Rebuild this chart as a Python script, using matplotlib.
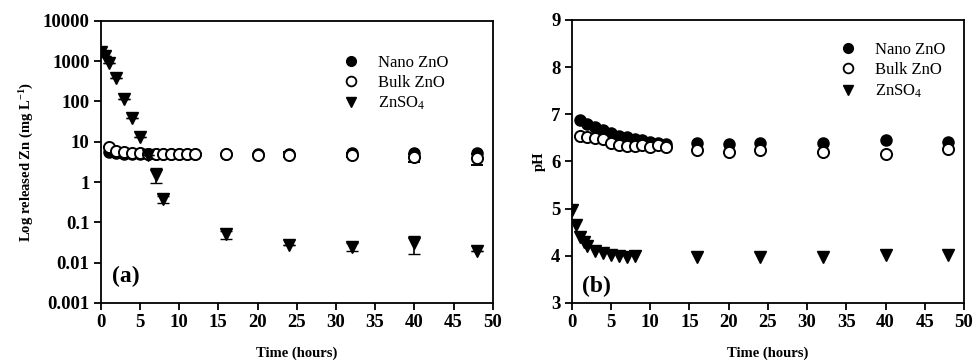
import matplotlib
matplotlib.use('Agg')
import matplotlib.pyplot as plt
from matplotlib.lines import Line2D
from matplotlib.ticker import FixedLocator, FixedFormatter

plt.rcParams['font.family'] = ['Liberation Serif', 'DejaVu Serif']
plt.rcParams['mathtext.fontset'] = 'custom'
plt.rcParams['mathtext.rm'] = 'Liberation Serif'
plt.rcParams['mathtext.bf'] = 'Liberation Serif:bold'
plt.rcParams['mathtext.it'] = 'Liberation Serif:italic'

# ---------------- data: panel (a) released Zn ----------------
t_zno = [1, 2, 3, 4, 5, 6, 7, 8, 9, 10, 11, 12, 16, 20, 24, 32, 40, 48]
nano_zn = [5.6, 5.2, 5.0, 5.0, 5.0, 5.0, 5.0, 5.0, 5.0, 5.0, 5.0, 5.0,
           5.0, 4.9, 5.0, 5.3, 5.1, 5.2]
bulk_zn = [7.4, 6.0, 5.5, 5.2, 5.1, 5.0, 5.0, 5.0, 5.0, 5.0, 5.0, 5.0,
           4.9, 4.8, 4.8, 4.7, 4.2, 4.0]
bulk_zn_err_lo = [0, 0, 0, 0, 0, 0, 0, 0, 0, 0, 0, 0, 0, 0, 0.6, 0.5, 1.0, 1.4]
bulk_zn_err_hi = [0, 0, 0, 0, 0, 0, 0, 0, 0, 0, 0, 0, 0, 0, 0.6, 0.5, 0.8, 0.9]

t_ion_a = [0, 0.5, 1, 2, 3, 4, 5, 6, 7, 8, 16, 24, 32, 40, 48]
znso4_zn = [1700, 1300, 870, 370, 117, 38, 13, 4.7, 1.5, 0.38, 0.05, 0.028,
            0.025, 0.03, 0.02]
znso4_err_lo = [0, 0, 0, 0, 0, 0, 0, 0, 0.58, 0.08, 0.012, 0, 0.005, 0.014, 0]
znso4_err_hi = [0, 0, 0, 0, 0, 0, 0, 0, 0.7, 0.08, 0.012, 0, 0.005, 0.016, 0]

# ---------------- data: panel (b) pH ----------------
nano_ph = [6.88, 6.80, 6.73, 6.66, 6.60, 6.55, 6.51, 6.48, 6.45, 6.42, 6.40, 6.38,
           6.40, 6.38, 6.40, 6.40, 6.45, 6.42]
bulk_ph = [6.53, 6.52, 6.50, 6.48, 6.40, 6.35, 6.33, 6.32, 6.35, 6.30, 6.35, 6.30,
           6.25, 6.20, 6.25, 6.20, 6.15, 6.27]
t_ion_b = [0, 0.5, 1, 1.5, 2, 3, 4, 5, 6, 7, 8, 16, 24, 32, 40, 48]
znso4_ph = [4.97, 4.65, 4.40, 4.30, 4.20, 4.10, 4.05, 4.02, 4.00, 3.97, 4.00,
            3.97, 3.97, 3.97, 4.01, 4.01]

labels = ['Nano ZnO', 'Bulk ZnO', r'ZnSO$_4$']
xticks = [0, 5, 10, 15, 20, 25, 30, 35, 40, 45, 50]
yticks_a = [0.001, 0.01, 0.1, 1, 10, 100, 1000, 10000]
yticklabels_a = ['0.001', '0.01', '0.1', '1', '10', '100', '1000', '10000']
yticks_b = [3, 4, 5, 6, 7, 8, 9]

MS = 8
TICKFS = 13.5
LABFS = 10.5

fig = plt.figure(figsize=(9.73, 3.64), dpi=100)
axa = fig.add_axes([0.1035, 0.1676, 0.4029, 0.7755])
axb = fig.add_axes([0.5876, 0.1676, 0.4032, 0.7775])

def style(ax):
    for s in ax.spines.values():
        s.set_linewidth(1.3)
    ax.tick_params(direction='out', length=5, width=1.3, top=False, right=False,
                   labelsize=TICKFS, pad=3)
    for lab in ax.get_xticklabels() + ax.get_yticklabels():
        lab.set_fontweight('bold')

# panel (a)
axa.set_yscale('log')
axa.errorbar(t_zno, nano_zn, fmt='o', ms=MS, color='black', mfc='black', mec='black', zorder=3)
axa.errorbar(t_zno, bulk_zn, yerr=[bulk_zn_err_lo, bulk_zn_err_hi], fmt='o', ms=MS,
             color='black', mfc='white', mec='black', mew=1.4, capsize=4, elinewidth=1.2, zorder=4)
axa.errorbar(t_ion_a, znso4_zn, yerr=[znso4_err_lo, znso4_err_hi], fmt='v', ms=MS + 1,
             color='black', mfc='black', mec='black', capsize=4, elinewidth=1.2, zorder=5)
axa.set_xlim(0, 50)
axa.set_ylim(0.001, 10000)
axa.yaxis.set_major_locator(FixedLocator(yticks_a))
axa.yaxis.set_major_formatter(FixedFormatter(yticklabels_a))
axa.yaxis.set_minor_locator(FixedLocator([]))
axa.set_xticks(xticks)
axa.set_xlabel('Time (hours)', fontsize=LABFS, fontweight='bold', labelpad=11)
axa.set_ylabel(r'Log released Zn (mg L$^{\mathbf{-1}}$)', fontsize=LABFS, fontweight='bold', labelpad=5)
axa.text(0.03, 0.075, '(a)', transform=axa.transAxes, fontsize=17, fontweight='bold')
style(axa)

# panel (b)
axb.plot(t_zno, nano_ph, 'o', ms=MS, color='black', mfc='black', zorder=3)
axb.plot(t_zno, bulk_ph, 'o', ms=MS, color='black', mfc='white', mew=1.4, zorder=4)
axb.plot(t_ion_b, znso4_ph, 'v', ms=MS + 1, color='black', mfc='black', zorder=5)
axb.set_xlim(0, 50)
axb.set_ylim(3, 9)
axb.set_xticks(xticks)
axb.set_yticks(yticks_b)
axb.set_xlabel('Time (hours)', fontsize=LABFS, fontweight='bold', labelpad=11)
axb.set_ylabel('pH', fontsize=LABFS, fontweight='bold', labelpad=4)
axb.text(0.025, 0.04, '(b)', transform=axb.transAxes, fontsize=17, fontweight='bold')
style(axb)

def make_legend(ax, anchor):
    handles = [
        Line2D([], [], ls='none', marker='o', ms=7, color='black', mfc='black'),
        Line2D([], [], ls='none', marker='o', ms=7, color='black', mfc='white', mew=1.3),
        Line2D([], [], ls='none', marker='v', ms=7, color='black', mfc='black'),
    ]
    ax.legend(handles, labels, loc='upper left', bbox_to_anchor=anchor, frameon=False,
              fontsize=12, handlelength=1.0, handletextpad=1.1, labelspacing=0.25,
              borderaxespad=0, borderpad=0)

make_legend(axa, (0.618, 0.88))
make_legend(axb, (0.683, 0.922))

fig.savefig('out.png', dpi=100)
